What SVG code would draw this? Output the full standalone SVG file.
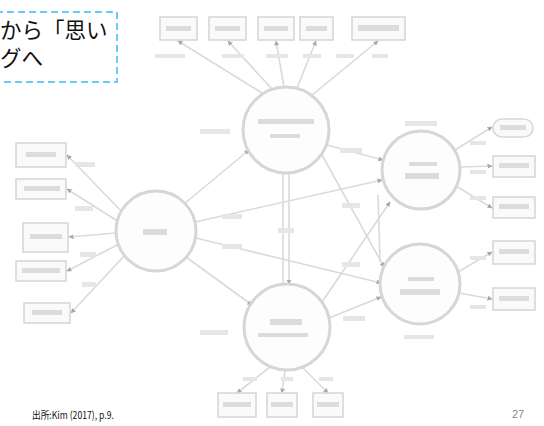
<svg xmlns="http://www.w3.org/2000/svg" width="544" height="426" viewBox="0 0 544 426">
<style>
.c{fill:#fdfdfd;stroke:#d6d6d6;stroke-width:3}
.b{fill:#fafafa;stroke:#d8d8d8;stroke-width:1.6}
.l{fill:none;stroke:#dadada;stroke-width:1.6}
.s{fill:#dcdcdc}
.t{fill:#e6e6e6}
.cap{font-family:"Noto Sans CJK JP","Noto Sans",sans-serif;fill:#111}
</style>
<defs>
<marker id="ah" markerWidth="5" markerHeight="5" refX="4.5" refY="2.5" orient="auto" markerUnits="userSpaceOnUse">
<path d="M0,0 L5,2.5 L0,5 Z" fill="#a8a8a8"/>
</marker>
</defs>
<rect width="544" height="426" fill="#fff"/>

<g id="callout">
<rect x="-4" y="12" width="121" height="70" fill="none" stroke="#6cccf8" stroke-width="2" stroke-dasharray="7 4"/>
<text class="cap" x="0" y="38" font-size="21.5">から「思い</text>
<text class="cap" x="0" y="66" font-size="21.5">グへ</text>
</g>

<g id="connectors">
<path class="l" marker-end="url(#ah)" d="M262,93 L178,41"/>
<path class="l" marker-end="url(#ah)" d="M272,89 L228,41"/>
<path class="l" marker-end="url(#ah)" d="M284,87 L276,41"/>
<path class="l" marker-end="url(#ah)" d="M297,88 L316,41"/>
<path class="l" marker-end="url(#ah)" d="M312,95 L378,41"/>
<path class="l" marker-end="url(#ah)" d="M124,214 L67,155"/>
<path class="l" marker-end="url(#ah)" d="M119,222 L67,189"/>
<path class="l" marker-end="url(#ah)" d="M116,233 L69,237"/>
<path class="l" marker-end="url(#ah)" d="M119,244 L67,271"/>
<path class="l" marker-end="url(#ah)" d="M126,254 L71,313"/>
<path class="l" marker-end="url(#ah)" d="M455,150 L492,127"/>
<path class="l" marker-end="url(#ah)" d="M460,167 L492,166"/>
<path class="l" marker-end="url(#ah)" d="M456,186 L492,208"/>
<path class="l" marker-end="url(#ah)" d="M458,272 L492,252"/>
<path class="l" marker-end="url(#ah)" d="M459,293 L492,299"/>
<path class="l" marker-end="url(#ah)" d="M270,367 L237,393"/>
<path class="l" marker-end="url(#ah)" d="M285,370 L282,393"/>
<path class="l" marker-end="url(#ah)" d="M302,367 L328,393"/>
<path class="l" marker-end="url(#ah)" d="M184,204 L249,150"/>
<path class="l" marker-end="url(#ah)" d="M186,257 L252,305"/>
<path class="l" marker-end="url(#ah)" d="M195,222 L382,180"/>
<path class="l" marker-end="url(#ah)" d="M196,238 L381,283"/>
<path class="l" d="M283,173 L283,284"/>
<path class="l" marker-end="url(#ah)" d="M289,173 L289,284"/>
<path class="l" marker-end="url(#ah)" d="M327,145 L383,160"/>
<path class="l" marker-end="url(#ah)" d="M322,155 L384,267"/>
<path class="l" marker-end="url(#ah)" d="M322,302 L390,202"/>
<path class="l" marker-end="url(#ah)" d="M329,318 L381,297"/>
<path class="l" d="M378,195 L380,262"/>
</g>

<g id="n-top">
<circle class="c" cx="286" cy="130" r="43"/>
<rect class="s" x="258" y="119" width="56" height="5"/>
<rect class="s" x="270" y="134" width="30" height="4"/>
</g>
<g id="n-left">
<circle class="c" cx="156" cy="231" r="40"/>
<rect class="s" x="143" y="229" width="24" height="6"/>
</g>
<g id="n-right-upper">
<circle class="c" cx="421" cy="170" r="39"/>
<rect class="s" x="409" y="162" width="28" height="4"/>
<rect class="s" x="405" y="173" width="34" height="6"/>
</g>
<g id="n-right-lower">
<circle class="c" cx="420" cy="284" r="40"/>
<rect class="s" x="408" y="277" width="26" height="4"/>
<rect class="s" x="400" y="289" width="40" height="6"/>
</g>
<g id="n-bottom">
<circle class="c" cx="287" cy="327" r="43"/>
<rect class="s" x="270" y="319" width="32" height="6"/>
<rect class="s" x="258" y="333" width="50" height="4"/>
</g>

<g id="obs-top">
<rect class="b" x="160" y="17" width="37" height="23"/>
<rect class="b" x="209" y="17" width="37" height="23"/>
<rect class="b" x="258" y="17" width="36" height="23"/>
<rect class="b" x="300" y="17" width="33" height="23"/>
<rect class="b" x="352" y="17" width="53" height="23"/>
<rect class="s" x="166" y="26" width="25" height="5"/>
<rect class="s" x="215" y="26" width="25" height="5"/>
<rect class="s" x="264" y="26" width="24" height="5"/>
<rect class="s" x="306" y="26" width="21" height="5"/>
<rect class="s" x="358" y="25" width="41" height="6"/>
</g>
<g id="obs-left">
<rect class="b" x="16" y="143" width="50" height="24"/>
<rect class="b" x="16" y="179" width="50" height="20"/>
<rect class="b" x="23" y="223" width="45" height="29"/>
<rect class="b" x="16" y="261" width="50" height="20"/>
<rect class="b" x="24" y="303" width="46" height="20"/>
<rect class="s" x="26" y="152" width="30" height="5"/>
<rect class="s" x="24" y="186" width="36" height="5"/>
<rect class="s" x="30" y="234" width="32" height="5"/>
<rect class="s" x="22" y="268" width="38" height="5"/>
<rect class="s" x="32" y="310" width="30" height="5"/>
</g>
<g id="obs-right">
<rect class="b" x="493" y="119" width="40" height="18" rx="9"/>
<rect class="b" x="493" y="156" width="42" height="21"/>
<rect class="b" x="493" y="197" width="42" height="21"/>
<rect class="b" x="493" y="241" width="42" height="23"/>
<rect class="b" x="493" y="288" width="42" height="22"/>
<rect class="s" x="500" y="125" width="26" height="5"/>
<rect class="s" x="499" y="163" width="30" height="5"/>
<rect class="s" x="499" y="204" width="30" height="5"/>
<rect class="s" x="499" y="249" width="30" height="5"/>
<rect class="s" x="499" y="296" width="30" height="5"/>
</g>
<g id="obs-bottom">
<rect class="b" x="218" y="393" width="38" height="24"/>
<rect class="b" x="267" y="393" width="30" height="24"/>
<rect class="b" x="313" y="393" width="30" height="24"/>
<rect class="s" x="223" y="402" width="28" height="5"/>
<rect class="s" x="271" y="402" width="22" height="5"/>
<rect class="s" x="317" y="402" width="22" height="5"/>
</g>

<g id="coef-labels">
<rect class="t" x="155" y="54" width="30" height="4"/>
<rect class="t" x="222" y="54" width="22" height="4"/>
<rect class="t" x="266" y="54" width="22" height="4"/>
<rect class="t" x="303" y="54" width="18" height="4"/>
<rect class="t" x="336" y="54" width="18" height="4"/>
<rect class="t" x="372" y="54" width="16" height="4"/>
<rect class="t" x="200" y="129" width="30" height="5"/>
<rect class="t" x="75" y="162" width="20" height="5"/>
<rect class="t" x="75" y="206" width="18" height="5"/>
<rect class="t" x="80" y="252" width="16" height="5"/>
<rect class="t" x="82" y="282" width="14" height="5"/>
<rect class="t" x="222" y="214" width="20" height="5"/>
<rect class="t" x="222" y="244" width="20" height="5"/>
<rect class="t" x="278" y="228" width="16" height="5"/>
<rect class="t" x="340" y="148" width="22" height="5"/>
<rect class="t" x="342" y="203" width="18" height="5"/>
<rect class="t" x="342" y="262" width="18" height="5"/>
<rect class="t" x="343" y="316" width="22" height="5"/>
<rect class="t" x="200" y="330" width="28" height="5"/>
<rect class="t" x="405" y="121" width="32" height="5"/>
<rect class="t" x="470" y="141" width="16" height="4"/>
<rect class="t" x="470" y="170" width="16" height="4"/>
<rect class="t" x="470" y="196" width="16" height="4"/>
<rect class="t" x="470" y="256" width="16" height="4"/>
<rect class="t" x="470" y="305" width="16" height="4"/>
<rect class="t" x="404" y="335" width="30" height="4"/>
<rect class="t" x="243" y="377" width="14" height="4"/>
<rect class="t" x="281" y="377" width="12" height="4"/>
<rect class="t" x="319" y="377" width="14" height="4"/>
</g>

<g id="footer">
<text class="cap" x="32" y="419" font-size="10.5" textLength="82" lengthAdjust="spacingAndGlyphs">出所:Kim (2017), p.9.</text>
<text x="512" y="418" font-family="Liberation Sans, sans-serif" font-size="11" fill="#888">27</text>
</g>
</svg>
